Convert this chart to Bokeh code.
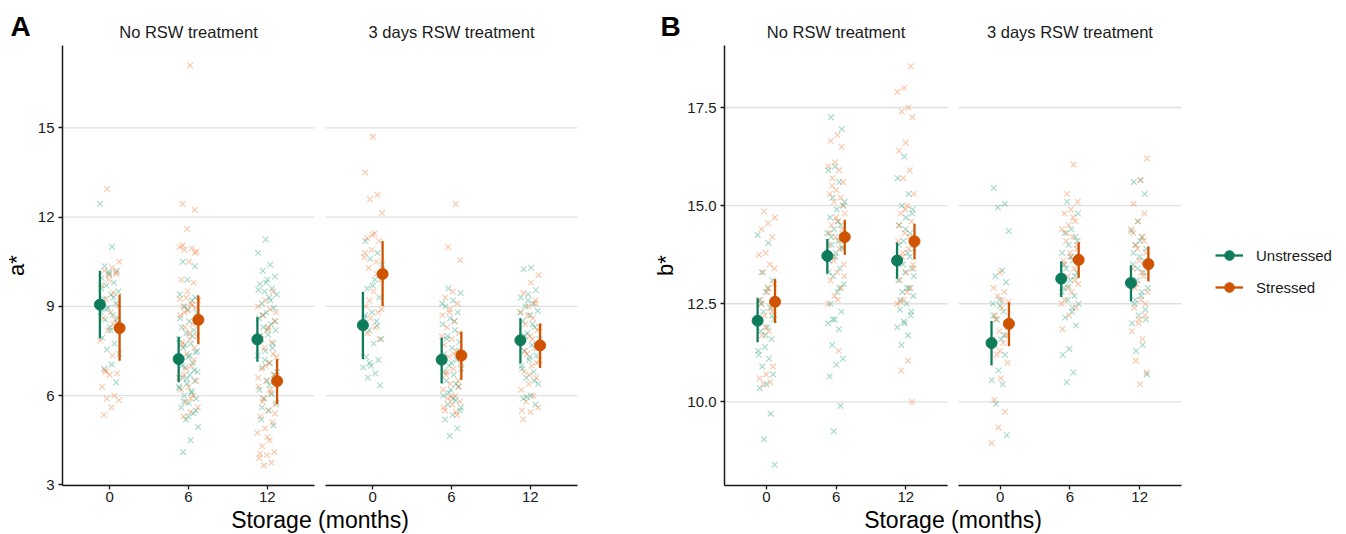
from bokeh.plotting import figure
from bokeh.models import Range1d, FixedTicker, Label, Legend, LegendItem, PrintfTickFormatter
from bokeh.layouts import row
from bokeh.embed import file_html
from bokeh.resources import INLINE

FONT = "Liberation Sans"
TXT = "#1a1a1a"

# ---------------- categories ----------------
times = ["0", "6", "12"]
facets = ["No RSW treatment", "3 days RSW treatment"]
groups = ["Unstressed", "Stressed"]

# ---------------- panel A (a*) individual observations ----------------
a_no_0_u = [12.45, 11.0, 10.35, 10.2, 10.1, 9.95, 9.8, 9.7, 9.5, 9.4, 9.25, 9.1, 8.95, 8.8, 8.7, 8.55,
            8.45, 8.3, 7.95, 7.75, 7.55, 7.4, 7.05, 6.9, 6.45, 10.15, 9.6, 9.3, 8.9, 8.6, 8.2]
a_no_0_s = [12.95, 10.5, 10.3, 10.2, 10.15, 10.05, 9.7, 9.45, 9.25, 9.05, 8.8, 8.6, 8.55, 8.2, 7.85,
            7.35, 6.85, 6.75, 6.7, 6.3, 6.0, 5.9, 5.85, 5.6, 5.35, 10.1, 9.9, 9.0, 8.4, 6.8]
a_no_6_u = [10.5, 10.35, 9.9, 9.4, 9.2, 9.0, 8.8, 8.5, 8.3, 8.2, 8.1, 7.9, 7.75, 7.6, 7.45, 7.3, 7.2,
            7.1, 6.95, 6.8, 6.7, 6.6, 6.5, 6.4, 6.25, 6.1, 6.0, 5.9, 5.75, 5.6, 5.4, 5.2, 4.95, 4.5, 4.1,
            9.3, 8.9, 8.6, 8.0, 7.7, 7.5, 7.35, 7.0, 6.85, 6.55, 6.3, 6.15, 5.8, 5.5, 5.3]
a_no_6_s = [17.1, 12.45, 12.25, 11.6, 11.0, 10.95, 10.9, 10.85, 10.5, 9.9, 9.8, 9.3, 9.2, 9.1, 9.0,
            8.95, 8.85, 8.7, 8.4, 8.3, 8.0, 7.9, 7.8, 7.6, 7.4, 7.3, 7.0, 6.7, 6.5, 6.3, 6.2, 6.0,
            5.8, 5.6, 5.45, 11.05, 10.8, 9.5, 9.25, 9.05, 8.8, 8.5, 8.1, 7.7, 7.2, 6.9, 6.6, 5.9, 5.3]
a_no_12_u = [11.25, 10.8, 10.4, 10.2, 10.0, 9.9, 9.75, 9.6, 9.5, 9.4, 9.3, 9.1, 8.95, 8.8, 8.6, 8.4,
             8.3, 8.2, 8.05, 7.9, 7.75, 7.5, 7.35, 7.1, 6.95, 6.7, 6.5, 6.2, 6.05, 5.9, 5.75, 5.5,
             5.2, 5.0, 9.8, 9.55, 9.2, 8.7, 8.5, 8.25, 8.0, 7.6, 7.2, 6.8, 6.35, 5.6]
a_no_12_s = [9.5, 9.2, 9.0, 8.9, 8.7, 8.5, 8.2, 8.0, 7.8, 7.6, 7.3, 7.1, 6.9, 6.7, 6.5, 6.3, 6.1, 5.9,
             5.7, 5.5, 5.3, 5.1, 4.9, 4.75, 4.5, 4.3, 4.1, 4.0, 3.9, 3.75, 3.65, 8.8, 8.3, 7.9, 7.4,
             7.0, 6.6, 6.2, 5.8, 5.4, 4.6, 4.05]
a_rsw_0_u = [11.2, 10.8, 10.6, 10.4, 9.9, 9.6, 9.3, 8.8, 8.6, 8.5, 8.2, 7.9, 7.75, 7.3, 7.2, 7.0,
             6.95, 6.75, 6.6, 6.35, 9.7, 8.7, 8.35, 7.1]
a_rsw_0_s = [14.7, 13.5, 12.75, 12.6, 12.15, 11.45, 11.3, 11.2, 10.9, 10.65, 10.5, 10.3, 9.9, 9.5,
             9.0, 8.8, 8.6, 8.45, 8.3, 8.1, 7.9, 11.4, 10.8, 10.1, 9.2, 8.9]
a_rsw_6_u = [9.6, 9.45, 9.2, 9.0, 8.8, 8.6, 8.4, 8.2, 8.0, 7.8, 7.6, 7.4, 7.2, 7.0, 6.9, 6.7, 6.5,
             6.3, 6.2, 6.0, 5.85, 5.7, 5.5, 5.35, 5.2, 4.9, 4.65, 9.1, 8.5, 7.9, 7.5, 7.1, 6.8, 6.4,
             6.1, 5.6, 5.9]
a_rsw_6_s = [12.45, 11.0, 10.55, 9.5, 9.3, 9.1, 8.9, 8.7, 8.5, 8.3, 8.1, 7.9, 7.7, 7.5, 7.3, 7.1,
             6.9, 6.7, 6.5, 6.4, 6.2, 6.0, 5.9, 5.8, 5.7, 5.5, 5.35, 8.8, 8.0, 7.4, 6.8, 6.3, 5.95,
             5.6, 5.45]
a_rsw_12_u = [10.3, 10.25, 9.55, 9.4, 9.3, 9.1, 9.0, 8.85, 8.7, 8.5, 8.3, 8.1, 7.9, 7.7, 7.5, 7.35,
              7.2, 7.0, 6.8, 6.6, 6.4, 6.0, 5.9, 5.7, 9.2, 8.8, 8.4, 8.0, 7.6, 7.3, 6.9, 6.5, 5.95]
a_rsw_12_s = [10.05, 9.8, 9.45, 9.2, 9.0, 8.8, 8.6, 8.4, 8.2, 8.0, 7.8, 7.6, 7.4, 7.2, 7.0, 6.8, 6.6,
              6.4, 6.2, 6.0, 5.8, 5.6, 5.45, 5.2, 9.1, 8.7, 8.3, 7.9, 7.5, 7.1, 6.7, 5.5]

# means and 95% CI, order: No RSW 0/6/12, 3 days RSW 0/6/12
a_mean_u = [9.06, 7.23, 7.89, 8.37, 7.21, 7.86]
a_lo_u = [7.93, 6.45, 7.14, 7.23, 6.41, 7.08]
a_hi_u = [10.20, 7.98, 8.64, 9.49, 7.95, 8.60]
a_mean_s = [8.27, 8.55, 6.49, 10.09, 7.35, 7.69]
a_lo_s = [7.17, 7.73, 5.72, 9.01, 6.53, 6.93]
a_hi_s = [9.40, 9.37, 7.23, 11.20, 8.15, 8.43]
a_ticks = [3, 6, 9, 12, 15]

# ---------------- panel B (b*) individual observations ----------------
b_no_0_u = [14.25, 14.05, 13.3, 13.1, 12.8, 12.6, 12.4, 12.3, 12.1, 11.9, 11.8, 11.6, 11.4, 11.3,
            11.1, 10.9, 10.7, 10.45, 10.35, 9.7, 9.05, 8.4, 12.9, 12.5, 12.2, 11.7, 11.2]
b_no_0_s = [14.85, 14.7, 14.55, 14.4, 14.2, 13.8, 13.75, 13.5, 13.3, 13.0, 12.8, 12.6, 12.4, 12.2,
            12.0, 11.8, 11.7, 10.9, 10.7, 10.6, 10.5, 10.45, 13.4, 12.9, 12.5, 12.3, 11.9]
b_no_6_u = [17.25, 16.95, 16.0, 15.9, 15.6, 15.2, 15.0, 14.9, 14.7, 14.5, 14.4, 14.3, 14.1, 14.0,
            13.9, 13.8, 13.6, 13.4, 13.2, 13.0, 12.8, 12.5, 12.3, 12.1, 12.0, 11.85, 11.45, 11.1,
            10.95, 10.65, 9.9, 9.25, 15.1, 14.6, 14.2, 13.95, 13.7, 13.3, 12.9, 12.1]
b_no_6_s = [16.8, 16.65, 16.5, 16.1, 16.0, 15.9, 15.7, 15.6, 15.4, 15.3, 15.2, 15.1, 14.8, 14.6,
            14.5, 14.4, 14.2, 14.0, 13.9, 13.7, 13.5, 13.3, 13.1, 12.9, 12.7, 12.5, 11.3, 15.5, 15.0,
            14.7, 14.3, 14.1, 13.6, 13.2, 12.6]
b_no_12_u = [16.25, 15.7, 15.3, 15.0, 14.9, 14.7, 14.5, 14.3, 14.1, 13.9, 13.8, 13.6, 13.4, 13.3,
             13.1, 12.9, 12.8, 12.7, 12.5, 12.35, 12.2, 12.05, 11.9, 11.7, 11.45, 14.8, 14.4, 14.0,
             13.7, 13.5, 13.2, 12.9, 12.6, 12.3, 12.0]
b_no_12_s = [18.55, 18.0, 17.9, 17.5, 17.4, 17.25, 16.6, 16.4, 15.9, 15.7, 15.3, 15.0, 14.8, 14.6,
             14.3, 14.1, 13.9, 13.7, 13.5, 13.3, 13.1, 12.9, 12.6, 12.5, 11.05, 10.8, 10.0, 14.9,
             14.5, 14.2, 13.8, 13.4, 12.8, 12.55]
b_rsw_0_u = [15.45, 15.05, 14.95, 14.35, 13.35, 13.2, 13.05, 12.6, 12.5, 12.3, 12.1, 11.9, 11.6,
             11.45, 11.2, 10.8, 10.55, 10.45, 9.95, 9.15, 12.45, 12.2, 11.7]
b_rsw_0_s = [13.3, 12.9, 12.8, 12.7, 12.55, 12.4, 12.2, 12.0, 11.8, 11.6, 11.5, 11.2, 11.0, 10.6,
             10.05, 9.75, 9.35, 8.95, 12.6, 12.1, 11.7, 11.3]
b_rsw_6_u = [15.1, 14.8, 14.4, 14.3, 14.2, 14.0, 13.8, 13.6, 13.4, 13.3, 13.1, 12.9, 12.7, 12.6,
             12.5, 12.3, 12.15, 11.95, 11.35, 11.2, 10.75, 10.5, 14.1, 13.7, 13.5, 13.2, 12.95, 12.8,
             12.4]
b_rsw_6_s = [16.05, 15.3, 15.1, 14.9, 14.8, 14.6, 14.5, 14.4, 14.2, 14.1, 13.9, 13.8, 13.6, 13.4,
             13.2, 13.0, 12.8, 12.6, 12.4, 12.2, 11.85, 14.7, 14.3, 14.0, 13.7, 13.5, 13.1, 12.9, 12.5]
b_rsw_12_u = [15.65, 15.6, 15.3, 14.6, 14.35, 14.2, 14.0, 13.9, 13.7, 13.5, 13.3, 13.1, 12.9, 12.7,
              12.5, 12.35, 12.2, 12.0, 11.45, 11.3, 10.7, 14.1, 13.8, 13.6, 13.4, 13.0, 12.8, 12.6,
              12.1]
b_rsw_12_s = [16.2, 15.65, 15.05, 14.8, 14.6, 14.4, 14.2, 14.0, 13.8, 13.6, 13.4, 13.2, 13.0, 12.8,
              12.6, 12.4, 12.2, 12.0, 11.8, 11.6, 11.05, 10.75, 10.45, 14.3, 14.1, 13.9, 13.5, 13.3,
              12.9, 12.5, 12.1]

b_mean_u = [12.07, 13.72, 13.60, 11.50, 13.14, 13.03]
b_lo_u = [11.52, 13.27, 13.14, 10.93, 12.67, 12.56]
b_hi_u = [12.64, 14.15, 14.06, 12.06, 13.58, 13.48]
b_mean_s = [12.55, 14.20, 14.09, 11.99, 13.62, 13.51]
b_lo_s = [12.01, 13.75, 13.63, 11.42, 13.16, 13.07]
b_hi_s = [13.13, 14.64, 14.54, 12.54, 14.07, 13.96]
b_ticks = [10.0, 12.5, 15.0, 17.5]

a_points = {
    (0, 0, 0): a_no_0_u, (0, 0, 1): a_no_0_s, (0, 1, 0): a_no_6_u, (0, 1, 1): a_no_6_s,
    (0, 2, 0): a_no_12_u, (0, 2, 1): a_no_12_s, (1, 0, 0): a_rsw_0_u, (1, 0, 1): a_rsw_0_s,
    (1, 1, 0): a_rsw_6_u, (1, 1, 1): a_rsw_6_s, (1, 2, 0): a_rsw_12_u, (1, 2, 1): a_rsw_12_s,
}
b_points = {
    (0, 0, 0): b_no_0_u, (0, 0, 1): b_no_0_s, (0, 1, 0): b_no_6_u, (0, 1, 1): b_no_6_s,
    (0, 2, 0): b_no_12_u, (0, 2, 1): b_no_12_s, (1, 0, 0): b_rsw_0_u, (1, 0, 1): b_rsw_0_s,
    (1, 1, 0): b_rsw_6_u, (1, 1, 1): b_rsw_6_s, (1, 2, 0): b_rsw_12_u, (1, 2, 1): b_rsw_12_s,
}

# ---------------- styling ----------------
H = 534
IN_TOP = 45      # top of plotting area (px)
IN_BOTTOM = 485  # bottom of plotting area (px)
DARK = ["#0e7c5b", "#cf5300"]
LIGHT = ["#1b9e77", "#f07028"]
DODGE = [-0.125, 0.125]
JIT = 0.125


def panel(letter, ylabel, points, means, ticks, yr, width, in_left, in_right, gap, fmt,
          letter_px, with_legend):
    span = 3.2
    x0 = 0.4
    x1 = x0 + 2 * span + gap
    shift = [0.0, span + gap]
    fstart = [x0, x0 + span + gap]
    sx = (x1 - x0) / (in_right - in_left)
    sy = (yr[1] - yr[0]) / (IN_BOTTOM - IN_TOP)
    xs0 = x0 - in_left * sx
    yt = yr[1] + IN_TOP * sy

    def dx(px):
        return xs0 + px * sx

    def dy(py):
        return yt - py * sy

    p = figure(width=width, height=H, x_range=Range1d(dx(0), dx(width)), y_range=Range1d(dy(H), dy(0)),
               output_backend="svg", toolbar_location=None, min_border=0)
    p.outline_line_color = None
    p.xgrid.visible = False
    p.ygrid.visible = False
    p.background_fill_color = "white"
    p.border_fill_color = "white"

    # facet gridlines
    gx0, gx1, gy = [], [], []
    for t in ticks:
        for f in range(2):
            gx0.append(fstart[f])
            gx1.append(fstart[f] + span)
            gy.append(t)
    p.segment(x0=gx0, y0=gy, x1=gx1, y1=gy, line_color="#e0e0e0", line_width=1.4)
    # facet x-axis lines
    p.segment(x0=fstart, y0=[yr[0], yr[0]], x1=[f + span for f in fstart], y1=[yr[0], yr[0]],
              line_color=TXT, line_width=1.5)

    # jittered observations
    for f in range(2):
        for ti in range(3):
            for g in range(2):
                vals = points[(f, ti, g)]
                phase = 0.37 * g + 0.21 * ti + 0.13 * f
                xs = [ti + 1 + shift[f] + ((((k * 0.6180339887) + phase) % 1.0) - 0.5) * 2 * JIT
                      for k in range(len(vals))]
                p.scatter(xs, vals, marker="x", size=8, line_width=1.1, color=LIGHT[g], alpha=0.4)

    # means with CI
    rends = []
    for g in range(2):
        m, lo, hi = means[g]
        xs = [ti + 1 + shift[f] + DODGE[g] for f in range(2) for ti in range(3)]
        seg = p.segment(x0=xs, y0=lo, x1=xs, y1=hi, line_color=DARK[g], line_width=2.3)
        dot = p.scatter(xs, m, size=11, color=DARK[g])
        rends.append([seg, dot])

    # axes (library axes pinned at the panel edges)
    ya = p.yaxis[0]
    ya.fixed_location = x0
    ya.bounds = (yr[0], yr[1])
    ya.ticker = FixedTicker(ticks=ticks)
    ya.formatter = PrintfTickFormatter(format=fmt)
    ya.axis_label = ylabel
    ya.axis_line_color = TXT
    ya.axis_line_width = 1.5
    xa = p.xaxis[0]
    xa.fixed_location = yr[0]
    xa.bounds = (x0, x1)
    xpos = [ti + 1 + shift[f] for f in range(2) for ti in range(3)]
    xa.ticker = FixedTicker(ticks=xpos)
    xa.major_label_overrides = {xpos[i]: times[i % 3] for i in range(6)}
    xa.axis_label = "Storage (months)"
    xa.axis_line_color = None
    for ax in (xa, ya):
        ax.minor_tick_line_color = None
        ax.major_tick_in = 0
        ax.major_tick_out = 4
        ax.major_tick_line_width = 1.3
        ax.major_tick_line_color = TXT
        ax.major_label_text_font = FONT
        ax.major_label_text_font_size = "15px"
        ax.major_label_text_color = TXT
        ax.axis_label_text_font = FONT
        ax.axis_label_text_font_style = "normal"
        ax.axis_label_text_color = "black"
    xa.major_label_standoff = 2
    ya.major_label_standoff = 4
    xa.axis_label_text_font_size = "23px"
    ya.axis_label_text_font_size = "22px"
    xa.axis_label_standoff = 2
    ya.axis_label_standoff = 6

    # facet strip titles
    for f in range(2):
        p.add_layout(Label(x=2 + shift[f], y=dy(31), text=facets[f], text_align="center",
                           text_baseline="middle", text_font=FONT, text_font_size="16.5px",
                           text_color=TXT))
    # panel letter
    p.add_layout(Label(x=dx(letter_px), y=dy(26), text=letter, text_align="left",
                       text_baseline="middle", text_font=FONT, text_font_size="28px",
                       text_font_style="bold", text_color="black"))

    if with_legend:
        items = [LegendItem(label=groups[g], renderers=rends[g]) for g in range(2)]
        leg = Legend(items=items, location=(in_right + 34, H - 299), orientation="vertical",
                     border_line_color=None, background_fill_alpha=0, padding=0, margin=0,
                     glyph_width=28, glyph_height=24, label_height=24, spacing=8, label_standoff=13,
                     label_text_font=FONT, label_text_font_size="15px", label_text_color=TXT)
        p.add_layout(leg)
    return p


pA = panel("A", "a*", a_points,
           [(a_mean_u, a_lo_u, a_hi_u), (a_mean_s, a_lo_s, a_hi_s)],
           a_ticks, (2.98, 17.77), 640, 62, 577, 0.14, "%d", 10, False)
pB = panel("B", "b*", b_points,
           [(b_mean_u, b_lo_u, b_hi_u), (b_mean_s, b_lo_s, b_hi_s)],
           b_ticks, (7.87, 19.08), 706, 84, 541, 0.155, "%.1f", 20, True)

layout = row(pA, pB)
open("out.html", "w").write(file_html(layout, INLINE))
